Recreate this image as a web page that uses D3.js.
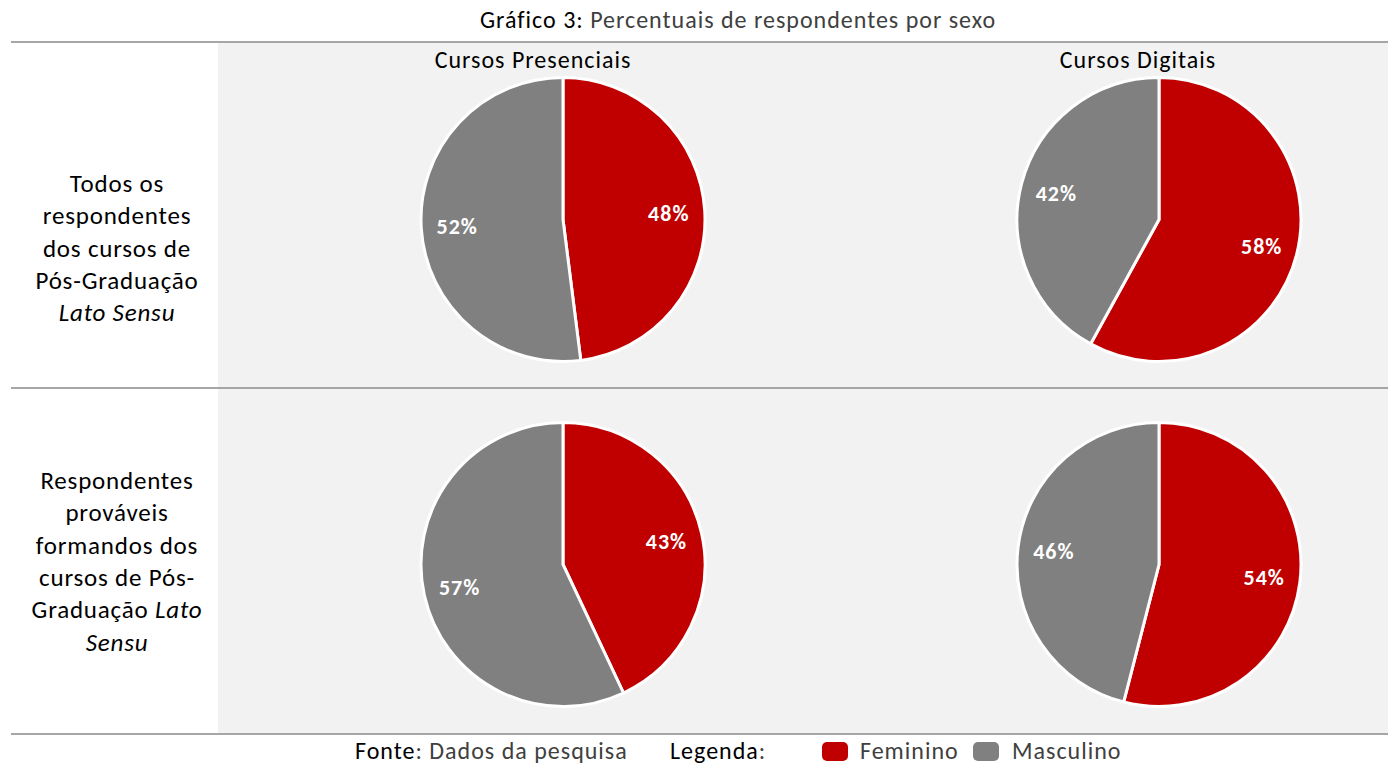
<!DOCTYPE html>
<html><head><meta charset="utf-8">
<script src="https://cdn.jsdelivr.net/npm/d3@7"></script>
<style>body{margin:0;background:#fff}svg{display:block}text{font-family:Carlito,Lato,"Open Sans",sans-serif}</style>
</head><body><svg id="c" width="1388" height="766"></svg>
<script>
const columns = ["Cursos Presenciais", "Cursos Digitais"];
const series = ["Feminino", "Masculino"];
const colors = ["#C00000", "#808080"];
// values [Feminino, Masculino] per row, per column
const rowTodos = [[48, 52], [58, 42]];
const rowFormandos = [[43, 57], [54, 46]];
const rowLabels = [
  [["Todos os"], ["respondentes"], ["dos cursos de"], ["Pós-Graduação"], [["Lato Sensu", true]]],
  [["Respondentes"], ["prováveis"], ["formandos dos"], ["cursos de Pós-"], [["Graduação ", false], ["Lato", true]], [["Sensu", true]]]
];
const rows = [rowTodos, rowFormandos];

const svg = d3.select("#c");
const W = 1388;
const rowBands = d3.scaleBand().domain([0, 1]).range([43, 733]);
const colX = d3.scalePoint().domain([0, 1]).range([563, 1159]);
const R = 142;
const LS = "1px";

// panel
svg.append("rect").attr("x", 218).attr("y", 43).attr("width", W - 218).attr("height", 690).attr("fill", "#F2F2F2");
// lines
[42, 388, 734].forEach(y => svg.append("line").attr("x1", 11).attr("x2", W).attr("y1", y).attr("y2", y)
  .attr("stroke", "#A6A6A6").attr("stroke-width", 2));

// title
const t = svg.append("text").attr("x", 738).attr("y", 28).attr("text-anchor", "middle").attr("font-size", 24)
  .attr("letter-spacing", LS);
t.append("tspan").attr("fill", "#000").text("Gráfico 3:");
t.append("tspan").attr("fill", "#404040").attr("font-weight", 300).text(" Percentuais de respondentes por sexo");

// column headers
svg.selectAll(".colh").data(columns).join("text").attr("class", "colh")
  .attr("x", (d, i) => colX(i) - 30 + i * 9).attr("y", 68).attr("text-anchor", "middle")
  .attr("font-size", 24).attr("letter-spacing", LS).attr("fill", "#000").text(d => d);

const pie = d3.pie().sort(null).value(d => d);
const arc = d3.arc().innerRadius(0).outerRadius(R);
const labelArc = d3.arc().innerRadius(106).outerRadius(106);

const rowLabelTop = [192, 489];
rows.forEach((row, ri) => {
  const cy = rowBands(ri) + rowBands.bandwidth() / 2 + 4;
  row.forEach((vals, ci) => {
    const g = svg.append("g").attr("transform", `translate(${colX(ci)},${cy})`);
    const arcs = pie(vals);
    g.selectAll("path").data(arcs).join("path").attr("d", arc)
      .attr("fill", (d, i) => colors[i]).attr("stroke", "#fff").attr("stroke-width", 3);
    g.selectAll("text").data(arcs).join("text")
      .attr("transform", d => `translate(${labelArc.centroid(d)})`)
      .attr("text-anchor", "middle").attr("dy", "0.35em")
      .attr("font-size", 22).attr("letter-spacing", LS).attr("font-weight", 700).attr("fill", "#fff")
      .text(d => d.data + "%");
  });
  // row label
  const lines = rowLabels[ri];
  const lh = 32.3;
  lines.forEach((ln, li) => {
    const tx = svg.append("text").attr("x", 117).attr("y", rowLabelTop[ri] + li * lh).attr("text-anchor", "middle")
      .attr("font-size", 25).attr("letter-spacing", "0.8px").attr("fill", "#000");
    ln.forEach(part => {
      if (Array.isArray(part)) tx.append("tspan").attr("font-style", part[1] ? "italic" : "normal").text(part[0]);
      else tx.append("tspan").text(part);
    });
  });
});

// footer
const fy = 759;
const f1 = svg.append("text").attr("x", 355).attr("y", fy).attr("font-size", 24).attr("letter-spacing", LS);
f1.append("tspan").attr("fill", "#000").text("Fonte");
f1.append("tspan").attr("fill", "#404040").attr("font-weight", 300).text(": Dados da pesquisa");
const f2 = svg.append("text").attr("x", 670).attr("y", fy).attr("font-size", 24).attr("letter-spacing", LS);
f2.append("tspan").attr("fill", "#000").text("Legenda");
f2.append("tspan").attr("fill", "#404040").attr("font-weight", 300).text(":");
const legX = [822, 973];
const legTX = [860, 1012];
series.forEach((s, i) => {
  svg.append("rect").attr("x", legX[i]).attr("y", 742).attr("width", 26).attr("height", 19).attr("rx", 5)
    .attr("fill", colors[i]);
  svg.append("text").attr("x", legTX[i]).attr("y", fy).attr("font-size", 24).attr("letter-spacing", LS)
    .attr("fill", "#404040").attr("font-weight", 300).text(s);
});
</script></body></html>
